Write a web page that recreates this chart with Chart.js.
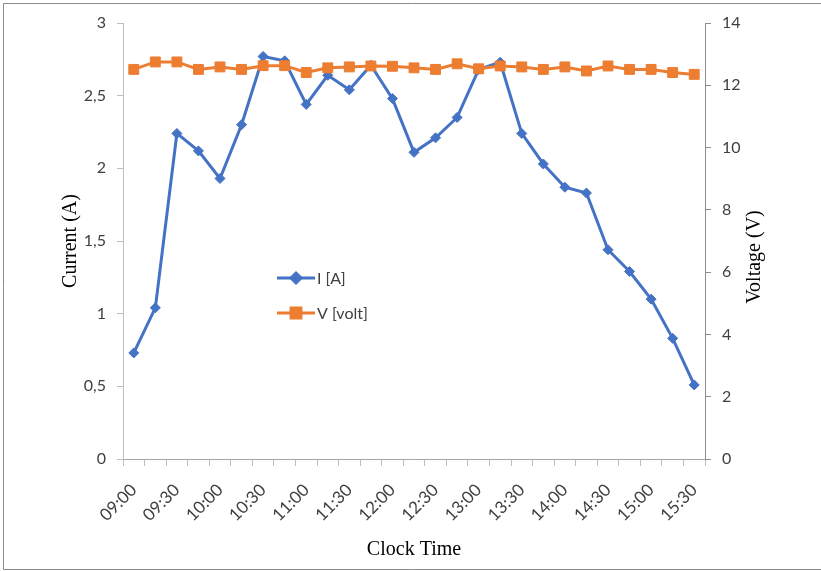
<!DOCTYPE html>
<html>
<head>
<meta charset="utf-8">
<script src="https://cdn.jsdelivr.net/npm/chart.js@4.4.1/dist/chart.umd.min.js"></script>
<style>
  html, body { margin: 0; padding: 0; background: #fff; }
  #wrap { position: relative; width: 821px; height: 571px; }
</style>
</head>
<body>
<div id="wrap"><canvas id="grafico"></canvas></div>
<script>
// datos (cada 15 min)
const horas = ['09:00','09:15','09:30','09:45','10:00','10:15','10:30','10:45','11:00','11:15','11:30','11:45','12:00','12:15',
  '12:30','12:45','13:00','13:15','13:30','13:45','14:00','14:15','14:30','14:45','15:00','15:15','15:30'];
const corriente = [0.73, 1.04, 2.24, 2.12, 1.93, 2.30, 2.77, 2.74, 2.44, 2.64, 2.54, 2.71, 2.48, 2.11,
  2.21, 2.35, 2.68, 2.73, 2.24, 2.03, 1.87, 1.83, 1.44, 1.29, 1.10, 0.83, 0.51];
const voltaje = [12.51, 12.75, 12.75, 12.51, 12.59, 12.51, 12.63, 12.63, 12.41, 12.56, 12.59, 12.62, 12.61, 12.56,
  12.51, 12.69, 12.53, 12.62, 12.59, 12.51, 12.59, 12.46, 12.62, 12.51, 12.51, 12.41, 12.35];
const ticksCorriente = [0, 0.5, 1, 1.5, 2, 2.5, 3];
const ticksVoltaje = [0, 2, 4, 6, 8, 10, 12, 14];

const fuenteTicks = { family: 'Lato', size: 16 };
const fuenteTitulo = { family: 'Liberation Serif', size: 20 };

// leyenda dentro del area del grafico
const leyenda = {
  id: 'leyenda',
  afterDraw(chart) {
    const ctx = chart.ctx;
    const filas = [278, 313];
    chart.data.datasets.forEach((ds, i) => {
      const y = filas[i];
      ctx.save();
      ctx.strokeStyle = ds.borderColor;
      ctx.lineWidth = 3;
      ctx.beginPath();
      ctx.moveTo(277, y);
      ctx.lineTo(315, y);
      ctx.stroke();
      Chart.helpers.drawPoint(ctx, {
        pointStyle: ds.pointStyle, radius: ds.pointRadius, borderWidth: 1
      }, 296, y);
      ctx.fillStyle = ds.borderColor;
      ctx.fill();
      ctx.fillStyle = '#404040';
      ctx.font = '16px Lato';
      ctx.textBaseline = 'middle';
      ctx.fillText(ds.label, 317, y + 1);
      ctx.restore();
    });
  }
};

// titulo del eje derecho (leido de abajo hacia arriba) y marco
const extras = {
  id: 'extras',
  afterDraw(chart) {
    const ctx = chart.ctx;
    ctx.save();
    ctx.translate(755, 257);
    ctx.rotate(-Math.PI / 2);
    ctx.font = '20px "Liberation Serif"';
    ctx.fillStyle = '#000';
    ctx.textAlign = 'center';
    ctx.textBaseline = 'middle';
    ctx.fillText('Voltage (V)', 0, 0);
    ctx.restore();

    ctx.save();
    ctx.strokeStyle = '#8c8c8c';
    ctx.lineWidth = 1;
    ctx.beginPath();
    ctx.moveTo(821, 569.5);
    ctx.lineTo(3.5, 569.5);
    ctx.lineTo(3.5, 3.5);
    ctx.lineTo(821, 3.5);
    ctx.stroke();
    ctx.restore();
  }
};

const config = {
  type: 'line',
  data: {
    labels: horas,
    datasets: [
      {
        label: 'I [A]',
        data: corriente,
        yAxisID: 'y',
        borderColor: '#4472C4',
        backgroundColor: '#4472C4',
        borderWidth: 3,
        pointStyle: 'rectRot',
        pointRadius: 5,
        pointBorderWidth: 1,
        order: 2,
        tension: 0
      },
      {
        label: 'V [volt]',
        data: voltaje,
        yAxisID: 'y1',
        borderColor: '#ED7D31',
        backgroundColor: '#ED7D31',
        borderWidth: 3,
        pointStyle: 'rect',
        pointRadius: 7,
        pointBorderWidth: 1,
        order: 1,
        tension: 0
      }
    ]
  },
  options: {
    responsive: false,
    animation: false,
    layout: { padding: { top: 23, left: 0, right: 0, bottom: 0 } },
    plugins: {
      legend: { display: false },
      tooltip: { enabled: false }
    },
    scales: {
      x: {
        offset: true,
        grid: { offset: true, drawOnChartArea: false, tickLength: 7, color: '#bfbfbf' },
        border: { color: '#a6a6a6' },
        ticks: {
          autoSkip: false,
          minRotation: 45,
          maxRotation: 45,
          padding: 14,
          color: '#404040',
          font: { family: 'Lato', size: 17 },
          callback: function (value, index) {
            return index % 2 === 0 ? this.getLabelForValue(value) : '';
          }
        },
        title: { display: true, text: 'Clock Time', color: '#000', font: fuenteTitulo, padding: { top: 0, bottom: 9 } },
        afterFit: (s) => { s.height = 112; }
      },
      y: {
        position: 'left',
        min: 0,
        max: 3,
        afterBuildTicks: (s) => { s.ticks = ticksCorriente.map(v => ({ value: v })); },
        grid: { drawOnChartArea: false, tickLength: 6, color: '#bfbfbf' },
        border: { color: '#c0c0c0' },
        ticks: {
          padding: 11,
          color: '#404040',
          font: fuenteTicks,
          callback: (v) => v.toString().replace('.', ',')
        },
        title: { display: true, text: 'Current (A)', color: '#000', font: fuenteTitulo, padding: { top: 59, bottom: 0 } },
        afterFit: (s) => { s.width = 123; }
      },
      y1: {
        position: 'right',
        min: 0,
        max: 14,
        afterBuildTicks: (s) => { s.ticks = ticksVoltaje.map(v => ({ value: v })); },
        grid: { drawOnChartArea: false, tickLength: 6, color: '#8c8c8c' },
        border: { color: '#8c8c8c' },
        ticks: { padding: 11, color: '#404040', font: fuenteTicks },
        afterFit: (s) => { s.width = 116; }
      }
    }
  },
  plugins: [leyenda, extras]
};

const canvas = document.getElementById('grafico');
canvas.width = 821;
canvas.height = 571;
new Chart(canvas, config);
</script>
</body>
</html>
